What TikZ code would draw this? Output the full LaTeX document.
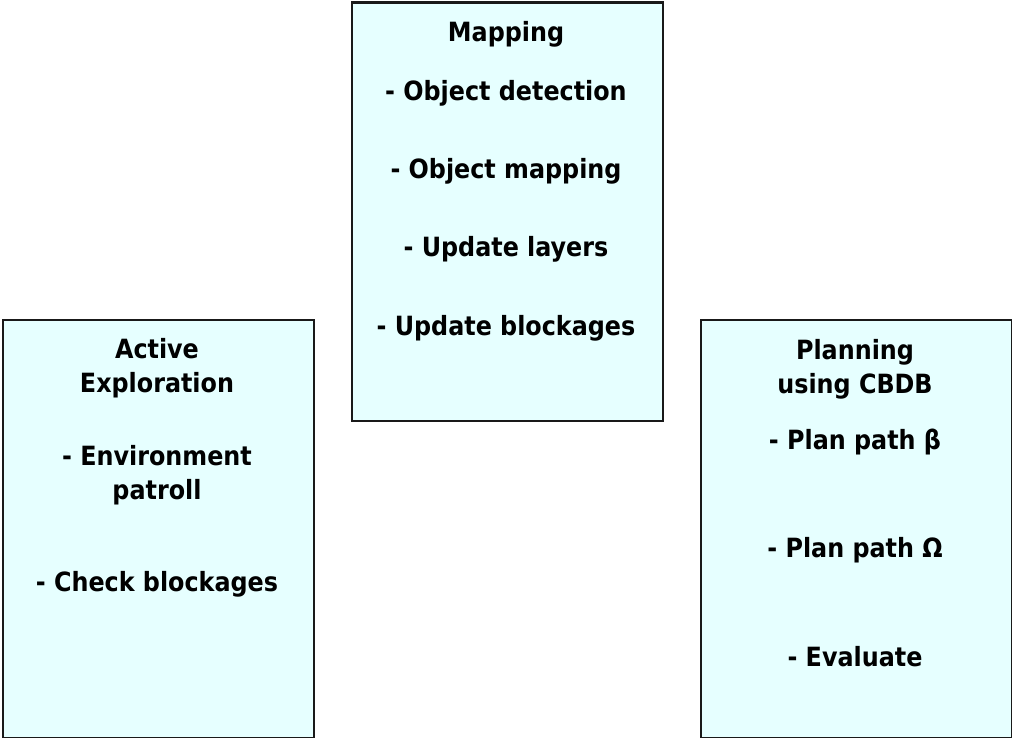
\documentclass[tikz,border=0pt]{standalone}
\usepackage{fontspec}
\setmainfont{DejaVu Sans Condensed}
\definecolor{panelfill}{RGB}{230,255,255}
\begin{document}
\begin{tikzpicture}[x=1pt,y=-1pt,
  panel/.style={draw=black!90,line width=2.5pt,fill=panelfill,inner sep=0pt,anchor=north west},
  txt/.style={anchor=base,inner sep=0pt,font=\fontsize{26.5}{30}\selectfont\bfseries,text=black}]
\useasboundingbox (0,0) rectangle (1012,738);
\node[panel,minimum width=311pt,minimum height=418pt] (left) at (1.5,318.5) {};
\node[panel,minimum width=311pt,minimum height=418pt] (mid) at (350.5,1.5) {};
\node[panel,minimum width=311pt,minimum height=418pt] (right) at (699.5,318.5) {};
% middle
\node[txt] (m1) at (506,42) {Mapping};
\node[txt] (m2) at (506,101) {- Object detection};
\node[txt] (m3) at (506,179) {- Object mapping};
\node[txt] (m4) at (506,257) {- Update layers};
\node[txt] (m5) at (506,335) {- Update blockages};
% left
\node[txt] (l1) at (157,358) {Active};
\node[txt] (l2) at (157,392) {Exploration};
\node[txt] (l3) at (157,465) {- Environment};
\node[txt] (l4) at (157,499) {patroll};
\node[txt] (l5) at (157,591) {- Check blockages};
% right
\node[txt] (r1) at (855,359) {Planning};
\node[txt] (r2) at (855,393) {using CBDB};
\node[txt] (r3) at (855,449) {- Plan path β};
\node[txt] (r4) at (855,557) {- Plan path Ω};
\node[txt] (r5) at (855,666) {- Evaluate};
\end{tikzpicture}
\end{document}
